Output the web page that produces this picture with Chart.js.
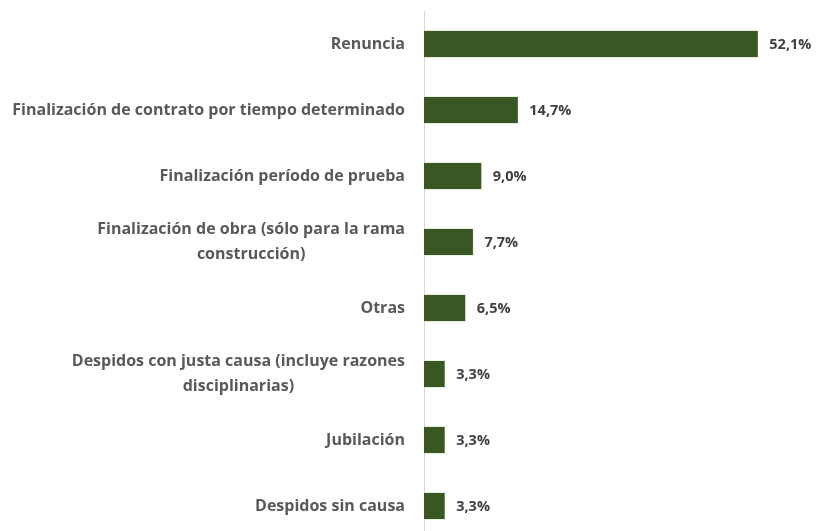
<!DOCTYPE html>
<html>
<head>
<meta charset="utf-8">
<script src="https://cdn.jsdelivr.net/npm/chart.js@4"></script>
<style>
  html, body { margin: 0; padding: 0; background: #fff; overflow: hidden; }
  #wrap { width: 818px; height: 545px; position: relative; }
</style>
</head>
<body>
<div id="wrap"><canvas id="chart"></canvas></div>
<script>
// Motivos de desvinculación - porcentajes
const categories = [
  ['Renuncia'],
  ['Finalización de contrato por tiempo determinado'],
  ['Finalización período de prueba'],
  ['Finalización de obra (sólo para la rama', 'construcción)'],
  ['Otras'],
  ['Despidos con justa causa (incluye razones', 'disciplinarias)'],
  ['Jubilación'],
  ['Despidos sin causa']
];
const values = [52.1, 14.7, 9.0, 7.7, 6.5, 3.3, 3.3, 3.3];
const valueLabels = ['52,1%', '14,7%', '9,0%', '7,7%', '6,5%', '3,3%', '3,3%', '3,3%'];

const FONT = '"Open Sans", sans-serif';

// Draws category labels (centered block, right edge fixed) and value labels
const labelPlugin = {
  id: 'labels',
  afterDatasetsDraw(chart) {
    const ctx = chart.ctx;
    const yScale = chart.scales.y;
    const meta = chart.getDatasetMeta(0);
    ctx.save();
    ctx.textBaseline = 'middle';

    // category labels
    ctx.font = 'bold 16px ' + FONT;
    ctx.fillStyle = '#595959';
    ctx.textAlign = 'center';
    const rightEdge = yScale.right - 19;
    const lineH = 25;
    categories.forEach((lines, i) => {
      const y = yScale.getPixelForTick(i);
      const maxW = Math.max(...lines.map(l => ctx.measureText(l).width));
      const cx = rightEdge - maxW / 2;
      const y0 = y - (lines.length - 1) * lineH / 2;
      lines.forEach((l, j) => ctx.fillText(l, cx, y0 + j * lineH));
    });

    // value labels
    ctx.font = 'bold 14.5px ' + FONT;
    ctx.fillStyle = '#404040';
    ctx.textAlign = 'left';
    meta.data.forEach((bar, i) => {
      ctx.fillText(valueLabels[i], bar.x + 11, bar.y + 1);
    });
    ctx.restore();
  }
};

new Chart(document.getElementById('chart'), {
  type: 'bar',
  data: {
    labels: categories,
    datasets: [{
      data: values,
      backgroundColor: '#385723',
      borderColor: '#a9c08f',
      borderWidth: 0.5,
      categoryPercentage: 1,
      barPercentage: 0.41
    }]
  },
  options: {
    indexAxis: 'y',
    responsive: true,
    maintainAspectRatio: false,
    animation: false,
    layout: { padding: { top: 11, right: 9, bottom: 6, left: 0 } },
    plugins: {
      legend: { display: false },
      tooltip: { enabled: false }
    },
    scales: {
      x: {
        min: 0,
        max: 60,
        display: false
      },
      y: {
        grid: { display: false },
        border: { display: true, color: '#d9d9d9', width: 1 },
        ticks: { display: false },
        afterFit: (s) => { s.width = 424; }
      }
    }
  },
  plugins: [labelPlugin]
});
</script>
</body>
</html>
